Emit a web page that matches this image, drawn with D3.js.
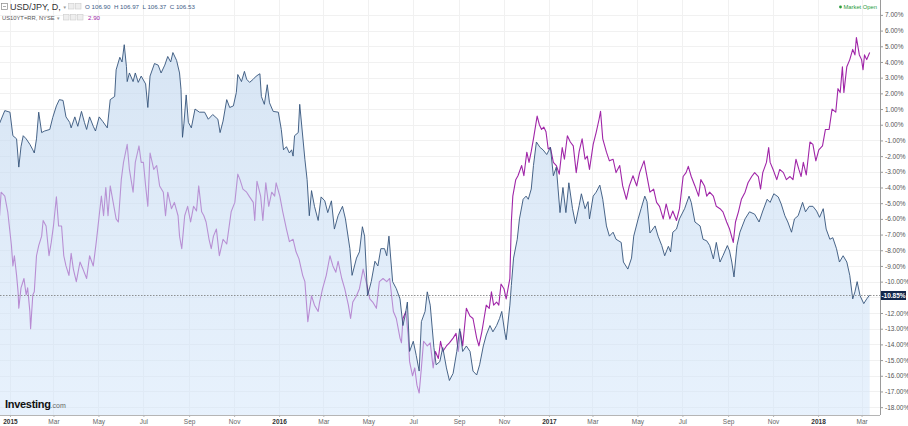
<!DOCTYPE html>
<html>
<head>
<meta charset="utf-8">
<script src="https://cdn.jsdelivr.net/npm/d3@7"></script>
<style>
  body { margin: 0; background: #fff; }
  text { font-family: "Liberation Sans", Arial, sans-serif; }
</style>
</head>
<body>
<svg id="chart" width="908" height="426"></svg>
<script>
// USD/JPY daily, % change from start of view
const usdJpy = [
  ["2014-12-18",0.1],["2014-12-25",0.9],["2015-01-01",0.8],["2015-01-05",-0.7],["2015-01-10",-0.9],["2015-01-13",-2.7],["2015-01-16",-1.4],["2015-01-19",-0.7],["2015-01-23",-0.9],["2015-01-28",-1.25],["2015-02-01",-1.6],["2015-02-03",-1.8],["2015-02-06",-0.9],["2015-02-09",0.8],["2015-02-13",-0.5],["2015-02-17",-0.4],["2015-02-24",-0.3],["2015-02-28",0.46],["2015-03-05",1.2],["2015-03-09",1.6],["2015-03-14",1.55],["2015-03-18",0.5],["2015-03-23",0.15],["2015-03-25",-0.2],["2015-03-30",0.5],["2015-04-03",-0.1],["2015-04-08",0.85],["2015-04-12",0.15],["2015-04-15",-0.3],["2015-04-19",0.5],["2015-04-24",-0.1],["2015-04-27",-0.4],["2015-05-02",0.5],["2015-05-07",0.2],["2015-05-13",-0.2],["2015-05-17",1.6],["2015-05-23",1.8],["2015-05-25",3.5],["2015-05-30",4.3],["2015-06-02",4.0],["2015-06-05",5.1],["2015-06-08",3.7],["2015-06-09",2.75],["2015-06-12",3.3],["2015-06-17",2.75],["2015-06-20",3.3],["2015-06-24",2.7],["2015-06-28",3.1],["2015-07-04",2.6],["2015-07-07",1.1],["2015-07-10",3.1],["2015-07-16",3.9],["2015-07-21",3.8],["2015-07-25",3.3],["2015-07-30",3.8],["2015-08-03",4.35],["2015-08-07",4.0],["2015-08-10",4.6],["2015-08-15",4.1],["2015-08-19",3.3],["2015-08-21",2.25],["2015-08-23",-0.8],["2015-08-25",0.1],["2015-08-28",1.9],["2015-08-31",0.15],["2015-09-04",-0.2],["2015-09-09",1.0],["2015-09-15",0.8],["2015-09-22",0.8],["2015-09-27",0.35],["2015-10-03",0.65],["2015-10-10",0.35],["2015-10-13",-0.5],["2015-10-17",0.23],["2015-10-22",1.6],["2015-10-26",1.1],["2015-10-31",1.2],["2015-11-04",2.05],["2015-11-06",3.2],["2015-11-11",2.75],["2015-11-15",3.4],["2015-11-18",2.9],["2015-11-22",2.7],["2015-11-27",2.9],["2015-12-01",3.1],["2015-12-06",3.25],["2015-12-08",1.8],["2015-12-12",1.3],["2015-12-16",2.55],["2015-12-19",1.4],["2015-12-24",0.85],["2015-12-31",0.8],
  ["2016-01-04",-0.3],["2016-01-07",-1.6],["2016-01-11",-1.4],["2016-01-15",-1.8],["2016-01-18",-1.6],["2016-01-20",-2.0],["2016-01-22",-0.7],["2016-01-27",-0.5],["2016-01-29",1.3],["2016-01-31",0.3],["2016-02-05",-2.2],["2016-02-08",-3.5],["2016-02-11",-5.8],["2016-02-14",-4.2],["2016-02-18",-5.2],["2016-02-23",-6.1],["2016-02-27",-4.6],["2016-03-03",-4.85],["2016-03-07",-5.6],["2016-03-12",-4.85],["2016-03-16",-6.65],["2016-03-21",-5.8],["2016-03-27",-5.2],["2016-03-31",-6.0],["2016-04-06",-7.9],["2016-04-09",-9.6],["2016-04-15",-8.5],["2016-04-19",-8.1],["2016-04-23",-6.5],["2016-04-26",-7.1],["2016-04-30",-10.9],["2016-05-05",-10.0],["2016-05-10",-8.7],["2016-05-14",-9.0],["2016-05-18",-7.9],["2016-05-23",-7.9],["2016-05-26",-8.35],["2016-05-29",-7.1],["2016-06-03",-10.0],["2016-06-08",-10.45],["2016-06-13",-11.1],["2016-06-17",-12.8],["2016-06-20",-12.15],["2016-06-23",-11.3],["2016-06-26",-14.45],["2016-07-01",-13.8],["2016-07-05",-14.7],["2016-07-09",-15.7],["2016-07-12",-12.55],["2016-07-17",-11.9],["2016-07-20",-10.65],["2016-07-24",-11.5],["2016-07-29",-14.2],["2016-08-01",-15.3],["2016-08-06",-15.1],["2016-08-10",-14.2],["2016-08-15",-15.5],["2016-08-19",-16.3],["2016-08-24",-15.85],["2016-08-29",-14.45],["2016-09-02",-13.0],["2016-09-06",-14.45],["2016-09-11",-14.1],["2016-09-16",-14.45],["2016-09-20",-15.7],["2016-09-25",-15.95],["2016-09-29",-15.3],["2016-10-04",-14.1],["2016-10-08",-13.4],["2016-10-13",-12.8],["2016-10-17",-13.2],["2016-10-22",-12.8],["2016-10-26",-12.35],["2016-10-29",-11.9],["2016-11-02",-13.2],["2016-11-04",-13.7],["2016-11-09",-11.5],["2016-11-11",-10.25],["2016-11-14",-8.5],["2016-11-19",-7.3],["2016-11-22",-6.0],["2016-11-27",-4.75],["2016-12-01",-4.55],["2016-12-04",-4.75],["2016-12-08",-4.1],["2016-12-11",-2.6],["2016-12-15",-1.1],["2016-12-20",-1.45],["2016-12-24",-1.6],["2016-12-29",-1.9],
  ["2017-01-03",-1.45],["2017-01-07",-3.25],["2017-01-11",-2.7],["2017-01-16",-5.6],["2017-01-20",-4.0],["2017-01-24",-5.6],["2017-01-28",-3.7],["2017-02-02",-5.35],["2017-02-06",-6.3],["2017-02-11",-5.15],["2017-02-14",-4.4],["2017-02-19",-5.35],["2017-02-23",-4.9],["2017-02-25",-6.0],["2017-03-02",-4.55],["2017-03-06",-4.3],["2017-03-11",-3.85],["2017-03-15",-4.75],["2017-03-20",-6.45],["2017-03-24",-7.1],["2017-03-29",-6.85],["2017-04-02",-7.3],["2017-04-09",-7.5],["2017-04-12",-8.75],["2017-04-18",-9.2],["2017-04-23",-8.5],["2017-04-26",-7.1],["2017-05-02",-6.0],["2017-05-06",-5.35],["2017-05-11",-4.55],["2017-05-14",-4.9],["2017-05-18",-6.9],["2017-05-25",-6.45],["2017-05-29",-7.1],["2017-06-03",-7.7],["2017-06-07",-8.35],["2017-06-12",-7.75],["2017-06-15",-8.1],["2017-06-18",-6.85],["2017-06-23",-6.65],["2017-06-27",-6.0],["2017-07-04",-5.35],["2017-07-10",-4.55],["2017-07-13",-4.95],["2017-07-18",-6.2],["2017-07-25",-6.45],["2017-07-29",-7.3],["2017-08-03",-7.4],["2017-08-07",-7.7],["2017-08-12",-8.55],["2017-08-16",-7.5],["2017-08-21",-8.75],["2017-08-25",-8.35],["2017-08-31",-7.7],["2017-09-03",-8.05],["2017-09-06",-8.75],["2017-09-09",-9.7],["2017-09-13",-7.7],["2017-09-17",-6.85],["2017-09-24",-6.0],["2017-09-30",-5.55],["2017-10-07",-5.7],["2017-10-13",-6.2],["2017-10-18",-5.5],["2017-10-24",-4.75],["2017-10-28",-4.95],["2017-11-02",-4.4],["2017-11-08",-4.6],["2017-11-12",-5.05],["2017-11-17",-5.8],["2017-11-21",-6.2],["2017-11-26",-6.85],["2017-11-30",-6.0],["2017-12-05",-5.8],["2017-12-11",-4.95],["2017-12-15",-5.55],["2017-12-20",-5.2],["2017-12-25",-5.2],["2017-12-30",-5.5],
  ["2018-01-03",-5.9],["2018-01-08",-5.35],["2018-01-12",-6.65],["2018-01-17",-7.3],["2018-01-21",-7.2],["2018-01-26",-7.9],["2018-01-30",-8.75],["2018-02-04",-8.35],["2018-02-09",-8.75],["2018-02-13",-9.6],["2018-02-17",-11.1],["2018-02-20",-10.65],["2018-02-23",-10.0],["2018-02-27",-10.9],["2018-03-04",-11.4],["2018-03-08",-11.1],["2018-03-12",-10.85]
];

// US10YT=RR on the same % scale
const us10y = [
  ["2014-12-18",-5.8],["2014-12-20",-4.3],["2014-12-25",-4.55],["2014-12-29",-5.55],["2015-01-03",-7.7],["2015-01-05",-9.0],["2015-01-07",-8.35],["2015-01-10",-9.6],["2015-01-12",-10.65],["2015-01-13",-11.7],["2015-01-16",-10.4],["2015-01-20",-9.8],["2015-01-23",-10.85],["2015-01-25",-10.4],["2015-01-28",-11.9],["2015-01-29",-13.0],["2015-02-01",-10.85],["2015-02-03",-10.65],["2015-02-06",-8.35],["2015-02-09",-7.7],["2015-02-13",-7.1],["2015-02-15",-6.1],["2015-02-19",-6.45],["2015-02-23",-8.35],["2015-02-26",-7.5],["2015-03-01",-6.45],["2015-03-05",-4.6],["2015-03-08",-6.45],["2015-03-12",-6.45],["2015-03-15",-8.35],["2015-03-18",-9.0],["2015-03-22",-9.6],["2015-03-25",-8.2],["2015-03-28",-9.2],["2015-04-01",-10.0],["2015-04-06",-8.75],["2015-04-10",-9.2],["2015-04-15",-9.8],["2015-04-19",-8.35],["2015-04-24",-9.0],["2015-04-28",-7.5],["2015-05-02",-5.8],["2015-05-05",-4.55],["2015-05-08",-5.8],["2015-05-11",-4.0],["2015-05-14",-5.8],["2015-05-17",-3.9],["2015-05-21",-4.95],["2015-05-25",-6.0],["2015-05-28",-6.2],["2015-06-01",-3.5],["2015-06-04",-2.4],["2015-06-09",-1.25],["2015-06-12",-2.85],["2015-06-17",-4.3],["2015-06-20",-2.4],["2015-06-25",-1.35],["2015-06-28",-2.4],["2015-07-01",-2.4],["2015-07-04",-3.9],["2015-07-07",-5.2],["2015-07-10",-1.8],["2015-07-15",-2.85],["2015-07-19",-2.6],["2015-07-23",-3.9],["2015-07-28",-4.3],["2015-07-31",-5.8],["2015-08-03",-4.3],["2015-08-08",-5.35],["2015-08-12",-4.95],["2015-08-17",-5.8],["2015-08-19",-7.1],["2015-08-22",-7.9],["2015-08-26",-5.8],["2015-08-30",-5.2],["2015-09-03",-6.2],["2015-09-07",-5.2],["2015-09-11",-5.5],["2015-09-14",-3.9],["2015-09-18",-5.55],["2015-09-21",-5.8],["2015-09-24",-6.2],["2015-09-28",-7.3],["2015-10-01",-7.9],["2015-10-04",-7.1],["2015-10-08",-6.65],["2015-10-12",-8.35],["2015-10-17",-7.3],["2015-10-22",-7.6],["2015-10-28",-5.55],["2015-11-02",-4.95],["2015-11-06",-3.15],["2015-11-09",-3.5],["2015-11-13",-4.1],["2015-11-18",-4.3],["2015-11-22",-4.6],["2015-11-27",-4.95],["2015-11-29",-6.1],["2015-12-02",-3.6],["2015-12-07",-4.55],["2015-12-10",-6.1],["2015-12-14",-3.7],["2015-12-18",-5.2],["2015-12-22",-4.3],["2015-12-26",-4.55],["2015-12-28",-3.7],
  ["2016-01-02",-4.55],["2016-01-06",-5.55],["2016-01-11",-6.65],["2016-01-15",-7.45],["2016-01-20",-7.3],["2016-01-24",-8.1],["2016-01-28",-8.55],["2016-02-02",-9.6],["2016-02-05",-10.0],["2016-02-09",-12.55],["2016-02-14",-10.9],["2016-02-18",-11.5],["2016-02-23",-11.9],["2016-02-25",-11.3],["2016-02-29",-10.45],["2016-03-05",-9.6],["2016-03-10",-8.35],["2016-03-14",-9.0],["2016-03-18",-9.4],["2016-03-21",-8.7],["2016-03-26",-9.8],["2016-03-30",-10.45],["2016-04-04",-11.5],["2016-04-07",-12.35],["2016-04-10",-11.3],["2016-04-15",-10.9],["2016-04-19",-10.45],["2016-04-24",-9.2],["2016-04-28",-10.0],["2016-05-03",-11.1],["2016-05-07",-11.3],["2016-05-12",-11.7],["2016-05-16",-10.0],["2016-05-21",-9.8],["2016-05-26",-10.0],["2016-05-30",-9.8],["2016-06-04",-11.9],["2016-06-08",-12.35],["2016-06-13",-13.6],["2016-06-15",-13.9],["2016-06-17",-12.35],["2016-06-21",-11.9],["2016-06-24",-13.4],["2016-06-26",-15.1],["2016-06-30",-16.0],["2016-07-03",-15.5],["2016-07-06",-16.6],["2016-07-09",-17.1],["2016-07-12",-15.5],["2016-07-15",-13.8],["2016-07-20",-14.1],["2016-07-24",-13.9],["2016-07-28",-15.5],["2016-07-31",-14.45],["2016-08-04",-14.9],["2016-08-07",-13.8],["2016-08-10",-14.45],["2016-08-15",-14.1],["2016-08-19",-13.9],["2016-08-24",-13.6],["2016-08-28",-13.3],["2016-08-31",-14.45],["2016-09-03",-13.2],["2016-09-06",-14.1],["2016-09-11",-11.7],["2016-09-16",-12.2],["2016-09-20",-12.35],["2016-09-25",-13.6],["2016-09-28",-14.1],["2016-10-02",-13.2],["2016-10-05",-12.35],["2016-10-08",-11.5],["2016-10-12",-11.7],["2016-10-15",-10.65],["2016-10-18",-11.5],["2016-10-22",-11.3],["2016-10-25",-11.5],["2016-10-28",-10.15],["2016-11-01",-10.45],["2016-11-04",-11.1],["2016-11-09",-9.8],["2016-11-11",-6.2],["2016-11-13",-4.55],["2016-11-17",-3.5],["2016-11-20",-3.25],["2016-11-25",-2.6],["2016-11-28",-3.25],["2016-12-02",-1.75],["2016-12-05",-2.4],["2016-12-08",-1.7],["2016-12-11",-0.9],["2016-12-16",0.55],["2016-12-19",0.0],["2016-12-22",-0.3],["2016-12-25",-0.15],["2016-12-28",-0.45],["2016-12-31",-1.55],
  ["2017-01-03",-1.45],["2017-01-07",-2.4],["2017-01-11",-2.6],["2017-01-15",-3.15],["2017-01-19",-1.45],["2017-01-22",-2.2],["2017-01-26",-0.7],["2017-01-30",-1.1],["2017-02-03",-1.35],["2017-02-07",-3.05],["2017-02-11",-1.7],["2017-02-15",-0.9],["2017-02-19",-2.2],["2017-02-22",-2.0],["2017-02-25",-2.85],["2017-03-02",-1.25],["2017-03-06",-0.5],["2017-03-10",0.35],["2017-03-12",0.85],["2017-03-15",-0.9],["2017-03-20",-1.75],["2017-03-24",-2.3],["2017-03-29",-2.2],["2017-04-02",-3.05],["2017-04-07",-2.6],["2017-04-11",-3.9],["2017-04-16",-4.75],["2017-04-20",-3.9],["2017-04-25",-3.25],["2017-04-30",-3.9],["2017-05-04",-3.05],["2017-05-10",-2.3],["2017-05-13",-3.05],["2017-05-18",-4.3],["2017-05-23",-4.1],["2017-05-27",-4.95],["2017-05-31",-5.2],["2017-06-05",-6.0],["2017-06-09",-5.05],["2017-06-14",-6.0],["2017-06-18",-5.5],["2017-06-23",-6.1],["2017-06-27",-5.35],["2017-07-02",-3.3],["2017-07-06",-3.05],["2017-07-09",-2.65],["2017-07-13",-3.3],["2017-07-18",-3.9],["2017-07-23",-4.55],["2017-07-26",-3.5],["2017-07-31",-3.9],["2017-08-03",-4.55],["2017-08-07",-4.3],["2017-08-12",-4.55],["2017-08-16",-5.2],["2017-08-21",-5.35],["2017-08-25",-5.55],["2017-08-30",-6.2],["2017-09-03",-6.65],["2017-09-08",-7.5],["2017-09-11",-6.2],["2017-09-15",-5.55],["2017-09-19",-4.75],["2017-09-24",-4.3],["2017-09-28",-3.7],["2017-10-03",-3.3],["2017-10-07",-3.05],["2017-10-12",-3.3],["2017-10-15",-4.1],["2017-10-18",-3.05],["2017-10-23",-2.4],["2017-10-26",-1.45],["2017-10-28",-2.4],["2017-11-01",-2.85],["2017-11-06",-3.5],["2017-11-10",-2.85],["2017-11-15",-3.05],["2017-11-19",-3.5],["2017-11-24",-3.3],["2017-11-28",-3.5],["2017-12-02",-2.2],["2017-12-06",-2.85],["2017-12-09",-3.3],["2017-12-12",-2.4],["2017-12-16",-3.2],["2017-12-21",-1.1],["2017-12-25",-1.25],["2017-12-29",-2.3],
  ["2018-01-02",-1.6],["2018-01-07",-1.35],["2018-01-11",-0.3],["2018-01-16",-0.3],["2018-01-20",1.0],["2018-01-25",0.8],["2018-01-28",2.3],["2018-01-31",2.05],["2018-02-03",3.7],["2018-02-05",2.05],["2018-02-09",3.7],["2018-02-13",4.15],["2018-02-17",4.8],["2018-02-20",4.45],["2018-02-22",5.55],["2018-02-26",4.45],["2018-03-01",4.15],["2018-03-03",3.5],["2018-03-05",4.45],["2018-03-08",4.15],["2018-03-12",4.6]
];

// right axis ticks (%)
const pctTicks = [-18,-17,-16,-15,-14,-13,-12,-11,-10,-9,-8,-7,-6,-5,-4,-3,-2,-1,0,1,2,3,4,5,6,7];
// bottom axis ticks
const monthTicks = ["2015-01-01","2015-03-01","2015-05-01","2015-07-01","2015-09-01","2015-11-01",
  "2016-01-01","2016-03-01","2016-05-01","2016-07-01","2016-09-01","2016-11-01",
  "2017-01-01","2017-03-01","2017-05-01","2017-07-01","2017-09-01","2017-11-01",
  "2018-01-01","2018-03-01"];
const monthNames = ["Jan","Feb","Mar","Apr","May","Jun","Jul","Aug","Sep","Oct","Nov","Dec"];

const lastJpy = -10.85;
const headerOhlc = "O 106.90  H 106.97  L 106.37  C 106.53";
const headerYield = "2.90";

function drawChart() {
  const parse = d3.timeParse("%Y-%m-%d");
  const jpy = usdJpy.map((d) => ({ date: parse(d[0]), value: d[1] }));
  const yld = us10y.map((d) => ({ date: parse(d[0]), value: d[1] }));

  const svg = d3.select("#chart");
  const plotW = 880;
  const plotH = 415;
  const font = "'Liberation Sans', Arial, sans-serif";

  const x = d3.scaleTime()
    .domain([new Date(2014, 11, 18, 12), new Date(2018, 2, 26)])
    .range([0, plotW]);
  const y = d3.scaleLinear().domain([-18.5, 7.95]).range([plotH, 0]);

  // gradient for the area under USD/JPY
  const defs = svg.append("defs");
  const grad = defs.append("linearGradient")
    .attr("id", "jpyFill")
    .attr("x1", 0).attr("y1", 0).attr("x2", 0).attr("y2", 1);
  grad.append("stop").attr("offset", "0%").attr("stop-color", "#c2d7ee").attr("stop-opacity", 0.66);
  grad.append("stop").attr("offset", "100%").attr("stop-color", "#d0e4fa").attr("stop-opacity", 0.5);

  const g = svg.append("g");

  // grid
  g.append("g")
    .selectAll("line")
    .data(pctTicks)
    .join("line")
    .attr("x1", 0).attr("x2", plotW)
    .attr("y1", (d) => Math.round(y(d)) + 0.5)
    .attr("y2", (d) => Math.round(y(d)) + 0.5)
    .attr("stroke", "#f1f1f1");

  g.append("g")
    .selectAll("line")
    .data(monthTicks.map(parse))
    .join("line")
    .attr("x1", (d) => Math.round(x(d)) + 0.5)
    .attr("x2", (d) => Math.round(x(d)) + 0.5)
    .attr("y1", 0).attr("y2", plotH)
    .attr("stroke", "#f1f1f1");

  // purple line first, so the blue area dims it where it passes below
  g.append("path")
    .datum(yld)
    .attr("fill", "none")
    .attr("stroke", "#a026a8")
    .attr("stroke-width", 1.1)
    .attr("stroke-linejoin", "round")
    .attr("d", d3.line().x((d) => x(d.date)).y((d) => y(d.value)));

  g.append("path")
    .datum(jpy)
    .attr("fill", "url(#jpyFill)")
    .attr("d", d3.area().x((d) => x(d.date)).y0(plotH).y1((d) => y(d.value)));

  g.append("path")
    .datum(jpy)
    .attr("fill", "none")
    .attr("stroke", "#34537b")
    .attr("stroke-width", 0.9)
    .attr("stroke-linejoin", "round")
    .attr("d", d3.line().x((d) => x(d.date)).y((d) => y(d.value)));

  // dotted last-value line
  const yLast = Math.round(y(lastJpy)) + 0.5;
  g.append("line")
    .attr("x1", 0).attr("x2", plotW)
    .attr("y1", yLast).attr("y2", yLast)
    .attr("stroke", "#777")
    .attr("stroke-width", 0.8)
    .attr("stroke-dasharray", "1.5,1.5");

  // right axis
  const yAxis = g.append("g")
    .attr("transform", "translate(" + plotW + ",0)")
    .call(d3.axisRight(y)
      .tickValues(pctTicks.filter((d) => Math.abs(y(d) - y(lastJpy)) > 6))
      .tickSize(3)
      .tickPadding(2)
      .tickFormat((d) => d.toFixed(2) + "%"));
  yAxis.select(".domain").attr("stroke", "#9a9a9a").attr("d", "M0.5,0V" + plotH);
  yAxis.selectAll(".tick line").attr("stroke", "#9a9a9a");
  yAxis.selectAll(".tick text")
    .attr("font-family", font)
    .attr("font-size", "6.5px")
    .attr("fill", "#555");

  // last value box
  g.append("rect")
    .attr("x", plotW + 1).attr("y", yLast - 4.5)
    .attr("width", 25).attr("height", 9)
    .attr("fill", "#14284b");
  g.append("text")
    .attr("x", plotW + 13.5).attr("y", yLast + 2.4)
    .attr("text-anchor", "middle")
    .attr("font-family", font)
    .attr("font-size", "6.5px")
    .attr("font-weight", "bold")
    .attr("fill", "#fff")
    .text(lastJpy.toFixed(2) + "%");

  // bottom axis
  const xAxis = g.append("g")
    .attr("transform", "translate(0," + plotH + ")")
    .call(d3.axisBottom(x)
      .tickValues(monthTicks.map(parse))
      .tickSize(2)
      .tickPadding(2)
      .tickFormat((d) => (d.getMonth() === 0 ? d.getFullYear() : monthNames[d.getMonth()])));
  xAxis.select(".domain").attr("stroke", "#b5b5b5").attr("d", "M0,0.5H" + plotW);
  xAxis.selectAll(".tick line").attr("stroke", "#b5b5b5");
  xAxis.selectAll(".tick text")
    .attr("font-family", font)
    .attr("font-size", "6.5px")
    .attr("fill", (d) => (d.getMonth() === 0 ? "#333" : "#666"))
    .attr("font-weight", (d) => (d.getMonth() === 0 ? "bold" : "normal"));

  // header, line 1
  svg.append("rect").attr("x", 1.5).attr("y", 3.5).attr("width", 6).attr("height", 6)
    .attr("fill", "none").attr("stroke", "#888").attr("stroke-width", 0.7);
  svg.append("line").attr("x1", 3).attr("x2", 6).attr("y1", 6.5).attr("y2", 6.5)
    .attr("stroke", "#888").attr("stroke-width", 0.7);
  svg.append("text").attr("x", 10).attr("y", 10)
    .attr("font-family", font).attr("font-size", "9px").attr("fill", "#333")
    .text("USD/JPY, D,");
  svg.append("text").attr("x", 62.5).attr("y", 9)
    .attr("font-family", font).attr("font-size", "4.5px").attr("fill", "#999")
    .text("▼");
  [68, 75].forEach((px) => {
    svg.append("rect").attr("x", px + 0.5).attr("y", 3.5).attr("width", 5.5).attr("height", 5.5)
      .attr("fill", "#eee").attr("stroke", "#ccc").attr("stroke-width", 0.6);
  });
  svg.append("text").attr("x", 85).attr("y", 9.3)
    .attr("font-family", font).attr("font-size", "6.2px").attr("fill", "#3e5c86")
    .attr("xml:space", "preserve").style("white-space", "pre")
    .text(headerOhlc);

  // header, line 2
  svg.append("text").attr("x", 2).attr("y", 20)
    .attr("font-family", font).attr("font-size", "5.8px").attr("fill", "#555")
    .text("US10YT=RR, NYSE");
  svg.append("text").attr("x", 56).attr("y", 19.5)
    .attr("font-family", font).attr("font-size", "4.5px").attr("fill", "#999")
    .text("▼");
  [63, 70, 77].forEach((px) => {
    svg.append("rect").attr("x", px + 0.5).attr("y", 14.5).attr("width", 5.5).attr("height", 5.5)
      .attr("fill", "#eee").attr("stroke", "#ccc").attr("stroke-width", 0.6);
  });
  svg.append("text").attr("x", 88).attr("y", 20)
    .attr("font-family", font).attr("font-size", "6.2px").attr("fill", "#a026a8")
    .text(headerYield);

  // market status
  svg.append("circle").attr("cx", 840.5).attr("cy", 7).attr("r", 1.4).attr("fill", "#2a9a3c");
  svg.append("text").attr("x", 843.5).attr("y", 9)
    .attr("font-family", font).attr("font-size", "5.8px").attr("fill", "#2a9a3c")
    .text("Market Open");

  // logo
  const logo = svg.append("text").attr("x", 5).attr("y", 408)
    .attr("font-family", font).attr("fill", "#111");
  logo.append("tspan").attr("font-size", "11px").attr("font-weight", "bold")
    .attr("letter-spacing", "-0.3").text("Investing");
  logo.append("tspan").attr("font-size", "7px").attr("fill", "#666").text(".com");
}

drawChart();
</script>
</body>
</html>
